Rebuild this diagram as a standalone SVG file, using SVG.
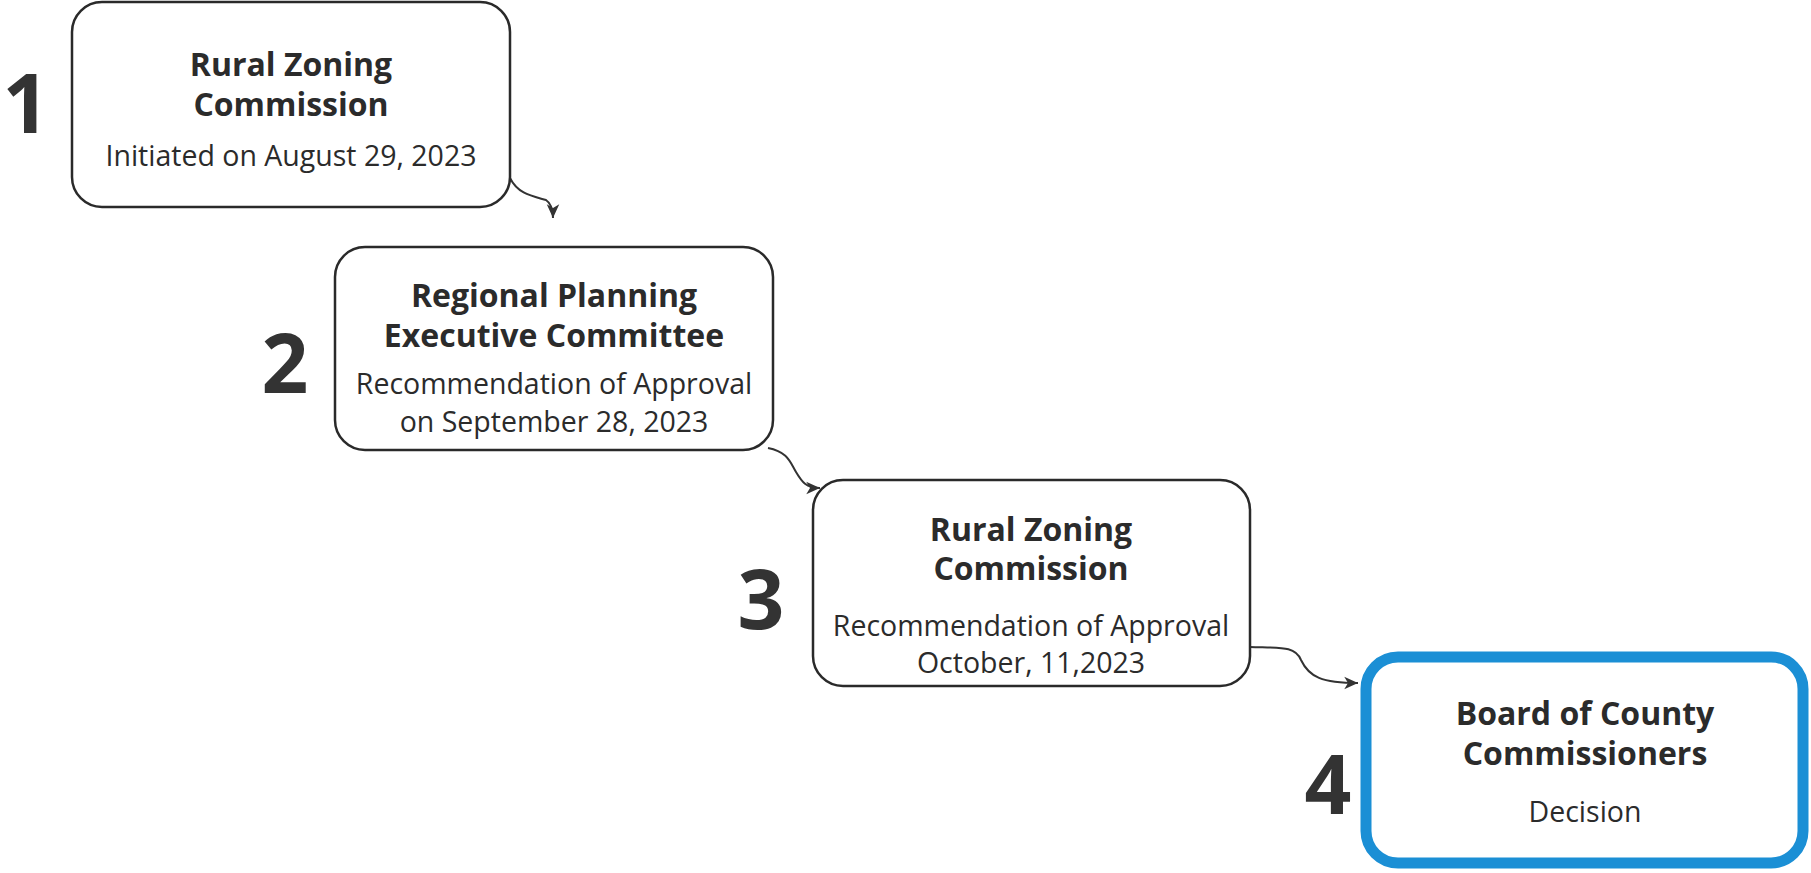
<svg xmlns="http://www.w3.org/2000/svg" width="1811" height="873" viewBox="0 0 1811 873">
<defs>
<style>
.box{fill:#fff;stroke:#2a2a2a;stroke-width:2.5}
.box4{fill:#fff;stroke:#1b8fd5;stroke-width:11}
.t{font-family:"Open Sans","Noto Sans",sans-serif;font-weight:700;font-size:32px;fill:#2b2b2b;text-anchor:middle}
.s{font-family:"Open Sans","Noto Sans",sans-serif;font-size:28.5px;fill:#2b2b2b;text-anchor:middle}
.n{font-family:"Open Sans","Noto Sans",sans-serif;font-weight:700;font-size:82px;fill:#333;text-anchor:middle}
.c{fill:none;stroke:#333;stroke-width:2}
</style>
<marker id="ah" viewBox="0 0 12 12" refX="11" refY="6" markerWidth="15" markerHeight="15" markerUnits="userSpaceOnUse" orient="auto">
<path d="M0,1 L11,6 L0,11 L3,6 Z" fill="#333"/>
</marker>
</defs>
<rect width="1811" height="873" fill="#fff"/>
<g id="connectors">
<path class="c" d="M510,178 C518,194 532,196 546,200 C552,204 553,212 553,218" marker-end="url(#ah)"/>
<path class="c" d="M768,448 C788,452 790,462 796,472 C802,482 806,488 820,488" marker-end="url(#ah)"/>
<path class="c" d="M1250,647 C1282,648 1295,646 1301,660 C1309,677 1322,683 1358,683" marker-end="url(#ah)"/>
</g>
<g id="node1">
<rect class="box" x="72" y="2" width="438" height="205" rx="30"/>
<text class="n" x="26" y="133">1</text>
<text class="t" x="291" y="76">Rural Zoning</text>
<text class="t" x="291" y="116">Commission</text>
<text class="s" x="291" y="166">Initiated on August 29, 2023</text>
</g>
<g id="node2">
<rect class="box" x="335" y="247" width="438" height="203" rx="30"/>
<text class="n" x="285" y="393">2</text>
<text class="t" x="554" y="307">Regional Planning</text>
<text class="t" x="554" y="347">Executive Committee</text>
<text class="s" x="554" y="394">Recommendation of Approval</text>
<text class="s" x="554" y="432">on September 28, 2023</text>
</g>
<g id="node3">
<rect class="box" x="813" y="480" width="437" height="206" rx="30"/>
<text class="n" x="761" y="629">3</text>
<text class="t" x="1031" y="541">Rural Zoning</text>
<text class="t" x="1031" y="580">Commission</text>
<text class="s" x="1031" y="636">Recommendation of Approval</text>
<text class="s" x="1031" y="673">October, 11,2023</text>
</g>
<g id="node4">
<rect class="box4" x="1366" y="657" width="437" height="206" rx="32"/>
<text class="n" x="1328" y="814">4</text>
<text class="t" x="1585" y="725">Board of County</text>
<text class="t" x="1585" y="765">Commissioners</text>
<text class="s" x="1585" y="822">Decision</text>
</g>
</svg>
